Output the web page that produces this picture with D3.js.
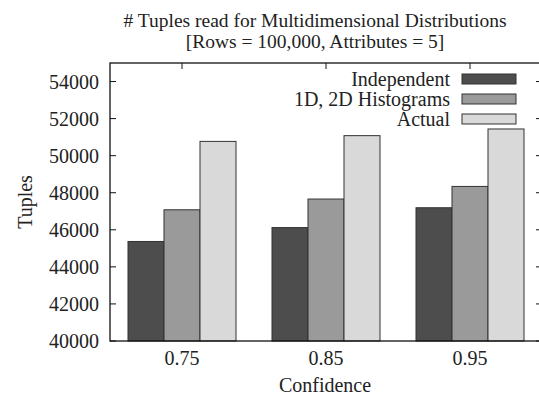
<!DOCTYPE html>
<html lang="en">
<head>
    <meta charset="UTF-8">
    <title># Tuples read for Multidimensional Distributions</title>
    <script src="https://d3js.org/d3.v7.min.js"></script>
    <style>
        body { margin: 0; background: #fff; }
        svg { display: block; font-family: "Liberation Serif", "Times New Roman", serif; }
        text { fill: #222; }
        .bar { stroke: #333; stroke-width: 1px; }
    </style>
</head>
<body>
    <svg id="svg" width="539" height="398"></svg>
    <script>
        // Values
        const categories = ["0.75", "0.85", "0.95"];
        const series = ["Independent", "1D, 2D Histograms", "Actual"];
        const independent = [45370, 46120, 47190];
        const histograms = [47080, 47660, 48340];
        const actual = [50770, 51080, 51440];
        const yTicks = [40000, 42000, 44000, 46000, 48000, 50000, 52000, 54000];
        const colors = ["#4d4d4d", "#9a9a9a", "#d9d9d9"];

        const values = [independent, histograms, actual];
        const rows = categories.map((c, i) => ({cat: c, vals: values.map(v => v[i])}));

        const margin = {left: 110, right: -3, top: 63, bottom: 57};
        const width = 539, height = 398;
        const fs = 20;

        const svg = d3.select("#svg");

        const x = d3.scaleBand()
            .domain(categories)
            .range([margin.left, width - margin.right])
            .paddingInner(0.25)
            .paddingOuter(0.125);

        const xs = d3.scaleBand()
            .domain(d3.range(series.length))
            .range([0, x.bandwidth()]);

        const y = d3.scaleLinear()
            .domain([40000, 55000])
            .range([height - margin.bottom, margin.top]);

        // Bars
        const groups = svg.append("g")
            .selectAll("g")
            .data(rows)
            .enter().append("g")
            .attr("transform", d => `translate(${x(d.cat)},0)`);

        groups.selectAll("rect")
            .data(d => d.vals.map((v, i) => ({v, i})))
            .enter().append("rect")
            .attr("class", "bar")
            .attr("x", d => xs(d.i))
            .attr("width", xs.bandwidth())
            .attr("y", d => y(d.v))
            .attr("height", d => y(40000) - y(d.v))
            .attr("fill", d => colors[d.i]);

        // Frame
        const x0 = margin.left, x1 = width - margin.right;
        const yTop = margin.top, yBot = height - margin.bottom;
        svg.append("rect")
            .attr("x", x0).attr("y", yTop)
            .attr("width", x1 - x0).attr("height", yBot - yTop)
            .attr("fill", "none").attr("stroke", "#111").attr("stroke-width", 1.3);

        // Y axis ticks + labels (mirrored ticks on the right)
        const yAxis = svg.append("g");
        yTicks.forEach(t => {
            yAxis.append("line")
                .attr("x1", x0).attr("x2", x0 + 6)
                .attr("y1", y(t)).attr("y2", y(t))
                .attr("stroke", "#111");
            yAxis.append("line")
                .attr("x1", x1).attr("x2", x1 - 6)
                .attr("y1", y(t)).attr("y2", y(t))
                .attr("stroke", "#111");
            yAxis.append("text")
                .attr("x", x0 - 11).attr("y", y(t))
                .attr("text-anchor", "end")
                .attr("dominant-baseline", "central")
                .attr("font-size", fs)
                .text(t);
        });

        // X axis labels, ticks at the top
        categories.forEach(c => {
            const cx = x(c) + x.bandwidth() / 2;
            svg.append("line")
                .attr("x1", cx).attr("x2", cx)
                .attr("y1", yTop).attr("y2", yTop + 6)
                .attr("stroke", "#111");
            svg.append("text")
                .attr("x", cx).attr("y", yBot + 17)
                .attr("text-anchor", "middle")
                .attr("dominant-baseline", "central")
                .attr("font-size", fs)
                .text(c);
        });

        // Axis titles
        svg.append("text")
            .attr("x", 325).attr("y", 385)
            .attr("text-anchor", "middle")
            .attr("dominant-baseline", "central")
            .attr("font-size", fs)
            .text("Confidence");

        svg.append("text")
            .attr("transform", "translate(25,202) rotate(-90)")
            .attr("text-anchor", "middle")
            .attr("dominant-baseline", "central")
            .attr("font-size", fs)
            .text("Tuples");

        // Title
        const title = svg.append("text")
            .attr("x", 315)
            .attr("text-anchor", "middle")
            .attr("font-size", 19.5);
        title.append("tspan").attr("x", 315).attr("y", 27)
            .text("# Tuples read for Multidimensional Distributions");
        title.append("tspan").attr("x", 315).attr("y", 48)
            .text("[Rows = 100,000, Attributes = 5]");

        // Legend
        const legend = svg.append("g");
        series.forEach((s, i) => {
            const ly = 79 + i * 20;
            legend.append("text")
                .attr("x", 450).attr("y", ly)
                .attr("text-anchor", "end")
                .attr("dominant-baseline", "central")
                .attr("font-size", fs)
                .text(s);
            legend.append("rect")
                .attr("class", "bar")
                .attr("x", 462).attr("y", ly - 5)
                .attr("width", 54).attr("height", 10)
                .attr("fill", colors[i]);
        });
    </script>
</body>
</html>
